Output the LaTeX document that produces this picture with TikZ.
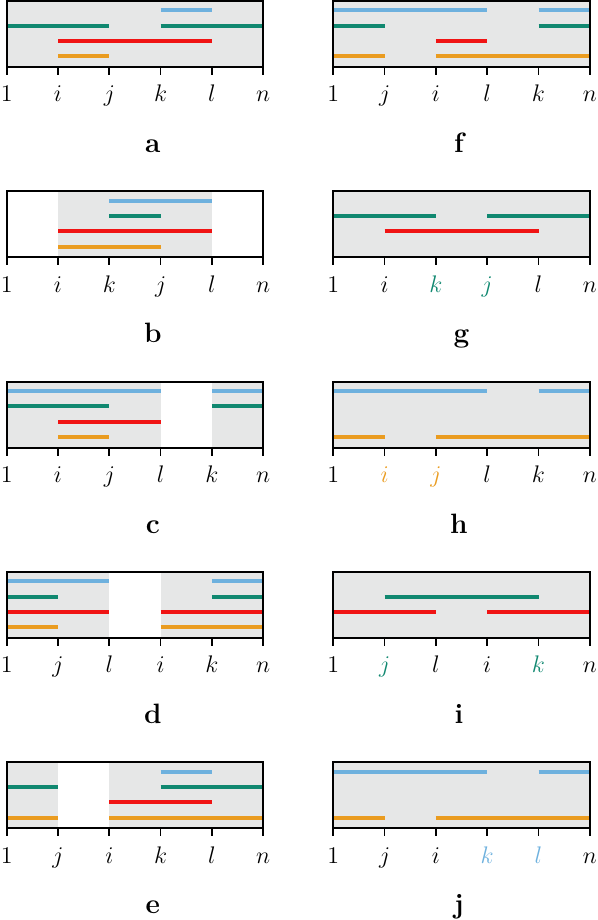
\documentclass[tikz,border=0pt]{standalone}
\usepackage{xcolor}
\definecolor{cblue}{RGB}{110,177,222}
\definecolor{cgreen}{RGB}{16,136,112}
\definecolor{cred}{RGB}{240,20,20}
\definecolor{corange}{RGB}{234,156,32}
\definecolor{bgray}{RGB}{230,231,231}
\tikzset{
  frame/.style={line width=0.85pt, draw=black},
  segline/.style={line width=2pt},
  ticklab/.style={anchor=base, inner sep=0pt, font=\fontsize{12.5}{15}\selectfont},
  panlab/.style={anchor=base, inner sep=0pt, font=\fontsize{14}{17}\selectfont\bfseries},
}
\newcommand\sBlue[2]{\draw[segline, cblue] (#1,56.5) -- (#2,56.5);}
\newcommand\sGreen[2]{\draw[segline, cgreen] (#1,41.3) -- (#2,41.3);}
\newcommand\sRed[2]{\draw[segline, cred] (#1,26) -- (#2,26);}
\newcommand\sOrange[2]{\draw[segline, corange] (#1,10.7) -- (#2,10.7);}
% #1 name, #2 x0, #3 axis y, #4 gray ranges, #5 segments, #6 labels, #7 letter, #8 letter x
\newcommand\panelbox[8]{%
  \begin{scope}[shift={(#2,-#3)}, x=25.65pt, y=0.5pt]
    \foreach \a/\b in {#4} {\fill[bgray] (\a,0) rectangle (\b,66);}
    #5
    \draw[frame] (0,0) rectangle (5,66);
    \foreach \t/\lab in {#6} {%
      \draw[frame] (\t,0) -- (\t,-8);
      \node[ticklab] (#1-\t) at (\t,-34.7) {$\lab$};}
    \node[panlab] (#1-name) at (#8,-85.3) {#7};
  \end{scope}}
\begin{document}
\begin{tikzpicture}[x=0.5pt, y=0.5pt]
\useasboundingbox (0,0) rectangle (598,-920);
% left column
\panelbox{a}{6.7}{67}{0/5}{\sBlue{3}{4}\sGreen{0}{2}\sGreen{3}{5}\sRed{1}{4}\sOrange{1}{2}}{0/1,1/i,2/j,3/k,4/l,5/n}{a}{2.85}
\panelbox{b}{6.7}{257.3}{1/4}{\sBlue{2}{4}\sGreen{2}{3}\sRed{1}{4}\sOrange{1}{3}}{0/1,1/i,2/k,3/j,4/l,5/n}{b}{2.85}
\panelbox{c}{6.7}{447.7}{0/3,4/5}{\sBlue{0}{3}\sBlue{4}{5}\sGreen{0}{2}\sGreen{4}{5}\sRed{1}{3}\sOrange{1}{2}}{0/1,1/i,2/j,3/l,4/k,5/n}{c}{2.85}
\panelbox{d}{6.7}{637.9}{0/2,3/5}{\sBlue{0}{2}\sBlue{4}{5}\sGreen{0}{1}\sGreen{4}{5}\sRed{0}{2}\sRed{3}{5}\sOrange{0}{1}\sOrange{3}{5}}{0/1,1/j,2/l,3/i,4/k,5/n}{d}{2.85}
\panelbox{e}{6.7}{828.3}{0/1,2/5}{\sBlue{3}{4}\sGreen{0}{1}\sGreen{3}{5}\sRed{2}{4}\sOrange{0}{1}\sOrange{2}{5}}{0/1,1/j,2/i,3/k,4/l,5/n}{e}{2.85}
% right column
\panelbox{f}{333.3}{67}{0/5}{\sBlue{0}{3}\sBlue{4}{5}\sGreen{0}{1}\sGreen{4}{5}\sRed{2}{3}\sOrange{0}{1}\sOrange{2}{5}}{0/1,1/j,2/i,3/l,4/k,5/n}{f}{2.45}
\panelbox{g}{333.3}{257.3}{0/5}{\sGreen{0}{2}\sGreen{3}{5}\sRed{1}{4}}{0/1,1/i,2/{\color{cgreen}k},3/{\color{cgreen}j},4/l,5/n}{g}{2.5}
\panelbox{h}{333.3}{447.7}{0/5}{\sBlue{0}{3}\sBlue{4}{5}\sOrange{0}{1}\sOrange{2}{5}}{0/1,1/{\color{corange}i},2/{\color{corange}j},3/l,4/k,5/n}{h}{2.45}
\panelbox{i}{333.3}{637.9}{0/5}{\sGreen{1}{4}\sRed{0}{2}\sRed{3}{5}}{0/1,1/{\color{cgreen}j},2/l,3/i,4/{\color{cgreen}k},5/n}{i}{2.45}
\panelbox{j}{333.3}{828.3}{0/5}{\sBlue{0}{3}\sBlue{4}{5}\sOrange{0}{1}\sOrange{2}{5}}{0/1,1/j,2/i,3/{\color{cblue}k},4/{\color{cblue}l},5/n}{j}{2.45}
\end{tikzpicture}
\end{document}
